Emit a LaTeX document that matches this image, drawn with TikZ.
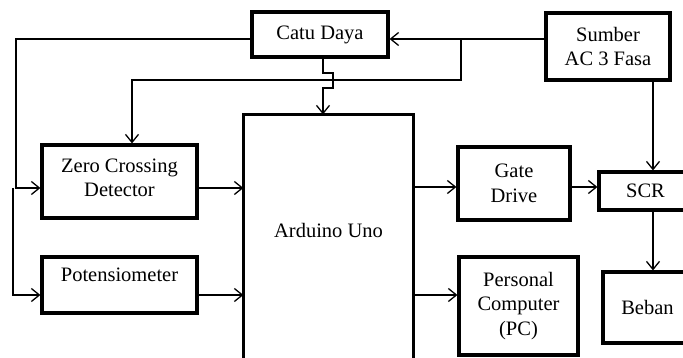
\documentclass[tikz,border=0pt]{standalone}
\usepackage{fontspec}
\setmainfont{Liberation Serif}
\usetikzlibrary{arrows.meta}
\tikzset{
  blk/.style={draw, line width=3.2pt, inner sep=0pt, align=center,
    font=\fontsize{20.5}{24.5}\selectfont},
  conn/.style={line width=1.3pt},
  arr/.style={conn, -{Straight Barb[length=8pt,width=13pt,line width=1.3pt]}},
}
\begin{document}
\begin{tikzpicture}[x=1pt,y=-1pt]
\useasboundingbox (0,0) rectangle (683,358);
% blocks
\node[blk, minimum width=136pt, minimum height=45pt] (catu) at (320,34.5) {Catu Daya};
\node[blk, minimum width=124pt, minimum height=67pt] (sumber) at (608,46.5) {Sumber\\AC 3 Fasa};
\node[blk, minimum width=155pt, minimum height=73pt] (zcd) at (119.5,181.5) {Zero Crossing\\Detector\\[-17pt]};
\node[blk, minimum width=155pt, minimum height=56pt, text depth=20pt] (pot) at (119.5,285) {Potensiometer};
\node[blk, draw=none, minimum width=167pt, minimum height=228pt] (ard) at (328.5,230) {Arduino Uno};
\draw[line width=3.2pt] ([yshift=-40pt]ard.south west) -- (ard.north west) -- (ard.north east) -- ([yshift=-40pt]ard.south east);
\node[blk, minimum width=112pt, minimum height=73pt] (gate) at (514,183.5) {Gate\\Drive};
\node[blk, minimum width=93pt, minimum height=38pt] (scr) at (645.5,191) {SCR};
\node[blk, minimum width=119pt, minimum height=98pt] (pc) at (518.5,306) {Personal\\Computer\\(PC)};
\node[blk, minimum width=89pt, minimum height=71pt] (beban) at (647.5,307.5) {Beban};
% helper coordinates
\coordinate (y39) at (0,39);
\coordinate (y80) at (0,80);
\coordinate (y187) at (0,187);
\coordinate (y188) at (0,188);
\coordinate (y295) at (0,295);
\coordinate (xl) at (16,0);
\coordinate (xl2) at (13,0);
\coordinate (xj) at (461,0);
\coordinate (xz) at (132,0);
\coordinate (xc) at (323,0);
\coordinate (xc2) at (333,0);
\coordinate (xs) at (653,0);
\coordinate (yj1) at (0,73);
\coordinate (yj2) at (0,88);
% connectors
\draw[arr] (catu.west |- y39) -- (xl |- y39) -- (xl |- y188) -- (zcd.west |- y188);
\draw[arr] (xl2 |- y188) -- (xl2 |- y295) -- (pot.west |- y295);
\draw[arr] (sumber.west |- y39) -- (catu.east |- y39);
\draw[arr] (xj |- y39) -- (xj |- y80) -- (xz |- y80) -- (xz |- zcd.north);
\draw[arr] (xc |- catu.south) -- (xc |- yj1) -- (xc2 |- yj1) -- (xc2 |- yj2) -- (xc |- yj2) -- (xc |- ard.north);
\draw[arr] (zcd.east |- y188) -- (ard.west |- y188);
\draw[arr] (pot.east |- y295) -- (ard.west |- y295);
\draw[arr] (ard.east |- y187) -- (gate.west |- y187);
\draw[arr] (gate.east |- y187) -- (scr.west |- y187);
\draw[arr] (ard.east |- y295) -- (pc.west |- y295);
\draw[arr] (xs |- sumber.south) -- (xs |- scr.north);
\draw[arr] (xs |- scr.south) -- (xs |- beban.north);
\end{tikzpicture}
\end{document}
